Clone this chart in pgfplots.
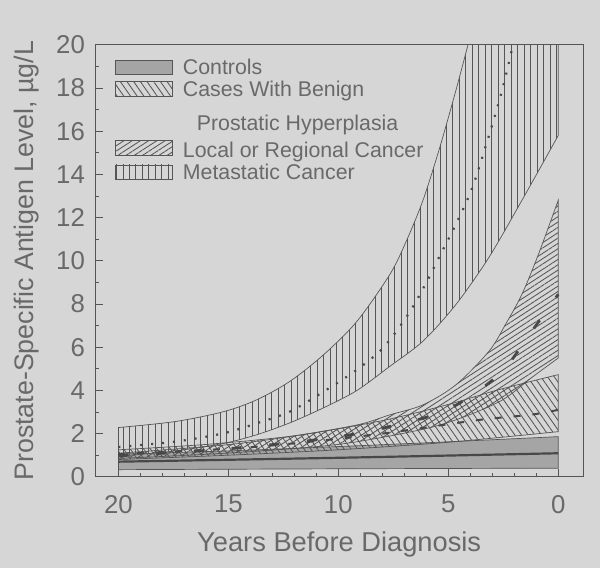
\documentclass[border=0pt]{standalone}
\usepackage{fontspec}
\setmainfont{Liberation Sans}
\usepackage{pgfplots}
\pgfplotsset{compat=1.18}
\usepgfplotslibrary{fillbetween}
\usetikzlibrary{patterns.meta}

\definecolor{bg}{RGB}{214,214,214}
\definecolor{ink}{RGB}{85,85,85}
\definecolor{txt}{RGB}{105,105,105}
\definecolor{ctrl}{RGB}{165,165,165}

\pgfplotsset{bandleg/.style={legend image code/.code={%
  \draw[##1, line width=0.8bp] (0bp,-7.5bp) rectangle (57bp,7.5bp);}}}

\begin{document}
\pagecolor{bg}
\begin{tikzpicture}
\path (-93bp,-92bp) rectangle (507bp,479bp);
\begin{axis}[
  at={(0,0)}, anchor=south west,
  scale only axis, width=490bp, height=434bp,
  x dir=reverse, xmin=-1.13, xmax=21.05, ymin=0, ymax=20,
  xtick={0,5,10,15,20}, ytick={0,2,...,20},
  minor x tick num=4, minor y tick num=1,
  xtick pos=bottom, ytick pos=left, tick align=inside,
  major tick length=8bp, minor tick length=4bp,
  axis line style={draw=ink, line width=1.1bp},
  every tick/.style={draw=ink, line width=0.9bp},
  /pgf/number format/assume math mode=true,
  tick label style={font=\fontsize{26}{26}\selectfont, text=txt},
  xticklabel style={yshift=-15bp},
  yticklabel style={xshift=-7bp},
  xlabel={Years Before Diagnosis},
  ylabel={Prostate-Specific Antigen Level, µg/L},
  every axis x label/.style={at={(axis description cs:0.5,0)}, yshift=-68bp, anchor=center, font=\fontsize{27.5}{27.5}\selectfont, text=txt},
  every axis y label/.style={at={(axis description cs:0,0.5)}, xshift=-69bp, anchor=center, rotate=90, font=\fontsize{27}{27}\selectfont, text=txt},
  legend style={draw=none, fill=none, at={(axis description cs:0,1)}, anchor=north west,
    xshift=20bp, yshift=-13bp, font=\fontsize{21.5}{23}\selectfont, text=txt,
    row sep=3bp, column sep=9bp, inner sep=0pt, nodes={inner sep=1bp}},
  legend cell align=left,
]

% controls
\addplot[name path=cu, draw=none, forget plot, smooth] coordinates {
  (20,1.05) (15,1.2) (10,1.4) (5,1.62) (0,1.86)};
\addplot[name path=cl, draw=none, forget plot, smooth] coordinates {
  (20,0.33) (10,0.37) (0,0.4)};
\addplot[fill=ctrl, draw=ink, line width=0.7bp, bandleg] fill between[of=cu and cl];
\addlegendentry{Controls}

% benign prostatic hyperplasia
\addplot[name path=bu, draw=none, forget plot, smooth] coordinates {
  (20,1.25) (16,1.5) (12,1.9) (8,2.6) (5,3.35) (3,3.95) (1.5,4.35) (0,4.73)};
\addplot[name path=bl, draw=none, forget plot, smooth] coordinates {
  (20,0.8) (15,1.0) (10,1.25) (5,1.6) (0,2.09)};
\addplot[pattern={Lines[angle=-55, distance=5.5bp, line width=0.85bp]}, pattern color=ink,
  draw=ink, line width=0.7bp, bandleg] fill between[of=bu and bl];
\addlegendentry{Cases With Benign}
\addlegendimage{empty legend}
\addlegendentry{\rule[-17bp]{0pt}{45bp}\hspace*{14bp}Prostatic Hyperplasia}

% local or regional cancer
\addplot[name path=lu, draw=none, forget plot, smooth] coordinates {
  (20,1.09) (15.2,1.47) (12.2,1.86) (9.15,2.4) (7.65,2.87) (6.15,3.33) (4.65,4.26)
  (3.15,5.81) (2.4,7.05) (1.65,8.45) (0.9,10.3) (0,12.8)};
\addplot[name path=ll, draw=none, forget plot, smooth] coordinates {
  (20,0.85) (15,1.1) (10,1.5) (6.15,2.2) (4.35,2.75) (2.55,3.55) (1.2,4.6) (0,5.5)};
\addplot[pattern={Lines[angle=33, distance=4.5bp, line width=0.85bp]}, pattern color=ink,
  draw=ink, line width=0.7bp, bandleg] fill between[of=lu and ll];
\addlegendentry{\rule{0pt}{20.5bp}Local or Regional Cancer}

% metastatic cancer
\addplot[name path=mu, draw=none, forget plot, smooth] coordinates {
  (20,2.28) (17.4,2.56) (15.2,3.02) (13.7,3.57) (12.2,4.42) (10.66,5.66) (9.15,7.2)
  (7.65,9.38) (6.9,10.93) (6.15,12.8) (5.4,15.2) (4.65,17.9) (4.0,20.4) (3.2,23.5)
  (2,28) (0,35)};
\addplot[name path=ml, draw=none, forget plot, smooth] coordinates {
  (20,0.95) (17.4,1.2) (15.2,1.55) (13.7,1.95) (12.2,2.5) (10.66,3.2) (9.15,4.0)
  (7.65,5.12) (6.15,6.28) (4.65,7.98) (3.15,10.16) (1.65,12.8) (0,15.8)};
\addplot[pattern={Lines[angle=90, distance=6.5bp, line width=0.85bp]}, pattern color=ink,
  draw=ink, line width=0.7bp, bandleg] fill between[of=mu and ml];
\addlegendentry{Metastatic Cancer}

% medians
\addplot[forget plot, smooth, draw=ink!85!black, line width=2.2bp] coordinates {
  (20,0.7) (10,0.88) (0,1.09)};
\addplot[forget plot, smooth, draw=ink!85!black, line width=2bp, dash pattern=on 7bp off 12bp] coordinates {
  (20,1.05) (15,1.3) (12,1.55) (8,2.0) (3.7,2.62) (1.2,2.88) (0,3.1)};
\addplot[forget plot, smooth, draw=ink!85!black, line width=2.8bp, dash pattern=on 10bp off 28bp] coordinates {
  (20,0.97) (15,1.3) (10,1.85) (6.15,2.71) (4.35,3.49) (2.55,4.88) (1.2,6.74) (0,8.45)};
\addplot[forget plot, smooth, draw=ink!85!black, line width=2.2bp, dash pattern=on 2bp off 9bp] coordinates {
  (20,1.38) (17.4,1.63) (15.2,2.02) (13.7,2.48) (12.2,3.02) (10.66,3.95) (9.15,4.96)
  (7.96,5.97) (6.9,7.4) (6.15,8.7) (5.4,10.2) (4.65,11.7) (3.9,13.4) (3.15,15.8)
  (2.55,17.9) (2.1,19.8) (1.7,21.5)};
\end{axis}
\end{tikzpicture}
\end{document}
